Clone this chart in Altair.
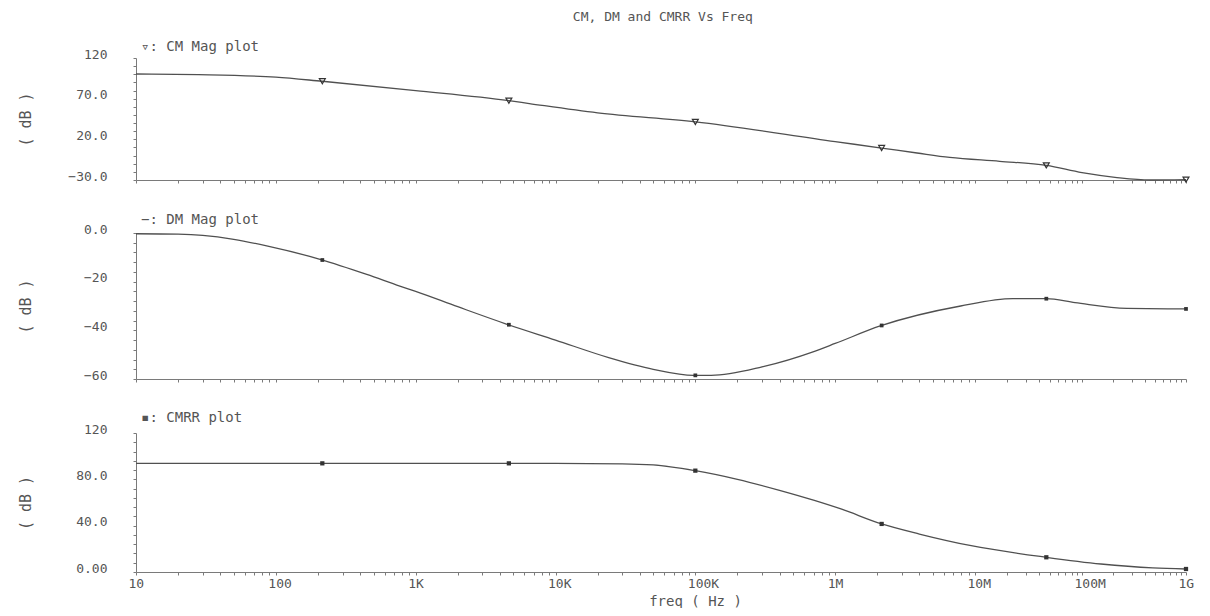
import altair as alt
import pandas as pd

FONT = "DejaVu Sans Mono"
TXT = "#555555"
AX = "#7a7a7a"
LINE = "#505050"

MAIN_TITLE = "CM, DM and CMRR Vs Freq"

# ---- common-mode magnitude (dB) ----
cm_freq = [10, 28, 100, 215, 1000, 4640, 6500, 20000, 100000, 1000000, 2150000,
           3850000, 6600000, 17000000, 46400000, 100000000, 217000000, 450000000, 1000000000]
cm_db = [100.3, 99.5, 96.5, 91.4, 80.0, 67.6, 64.0, 52.5, 41.4, 17.2, 9.3,
         3.2, -2.2, -7.0, -12.0, -21.0, -27.0, -30.0, -29.5]

# ---- differential-mode magnitude (dB) ----
dm_freq = [10, 20, 30, 50, 86, 207, 447, 770, 1000, 2000, 4400, 10000, 24000, 50000,
           97000, 130000, 300000, 720000, 1000000, 2100000, 7900000, 22600000,
           46400000, 86000000, 270000000, 1000000000]
dm_db = [-0.3, -0.5, -1.0, -2.6, -5.3, -10.8, -17.0, -21.8, -24.0, -30.3, -37.3, -44.0,
         -51.2, -56.0, -58.5, -58.5, -55.0, -48.5, -45.4, -38.2, -30.0, -27.0,
         -27.0, -28.6, -31.0, -31.2]

# ---- CMRR (dB) ----
cmrr_freq = [10, 1000, 10000, 30000, 50000, 100000, 200000, 400000, 700000, 1100000,
             2150000, 4000000, 9400000, 46400000, 152000000, 480000000, 1000000000]
cmrr_db = [93.8, 93.8, 93.7, 93.4, 92.5, 87.5, 80.0, 70.5, 62.0, 54.4,
           41.5, 32.8, 22.7, 12.7, 6.9, 3.5, 2.6]

# ---- marker positions ----
marker_freq = [215, 4640, 100000, 2150000, 46400000, 1000000000]
cm_marker_db = [91.4, 67.6, 41.4, 9.3, -12.0, -29.5]
dm_marker_db = [-11.1, -37.7, -58.5, -38.0, -27.0, -31.2]
cmrr_marker_db = [93.8, 93.8, 87.5, 41.5, 12.7, 2.6]

# ---- x axis ----
x_tick_values = [k * 10 ** e for e in range(1, 9) for k in range(1, 10)] + [10 ** 9]
x_label_values = [10, 100, 1000, 10000, 100000, 1000000, 10000000, 100000000, 1000000000]
x_label_text = ["10", "100", "1K", "10K", "100K", "1M", "10M", "100M", "1G"]
x_break_values = [10, 10000000, 100000000, 1000000000]
x_break_pixels = [0, 839, 946, 1050]

# ---- y axes ----
cm_ticks = list(range(-30, 121, 10))
cm_major = [120, 70, 20, -30]
cm_labels = ["120", "70.0", "20.0", "\u221230.0"]
dm_ticks = list(range(-60, 1, 4))
dm_major = [0, -20, -40, -60]
dm_labels = ["0.0", "\u221220", "\u221240", "\u221260"]
cmrr_ticks = list(range(0, 121, 8))
cmrr_major = [120, 80, 40, 0]
cmrr_labels = ["120", "80.0", "40.0", "0.00"]


def label_expr(values, texts):
    parts = [f"datum.value == {v} ? '{t}'" for v, t in zip(values, texts)]
    return " : ".join(parts) + " : ''"


W = 1050


def panel(freq, db, mdb, title, domain, ticks, major, labels, height, shape, filled, msize,
          bottom, title_offset):
    df = pd.DataFrame({"freq": freq, "db": db})
    mdf = pd.DataFrame({"freq": marker_freq, "db": mdb})
    xscale = alt.Scale(type="log", domain=x_break_values, range=x_break_pixels, nice=False)
    if bottom:
        xaxis = alt.Axis(values=x_tick_values, labelExpr=label_expr(x_label_values, x_label_text),
                         title="freq ( Hz )", labelFlush=False, labelOverlap=False,
                         labelAlign="left", labelOffset=-8, labelPadding=2, tickSize=3,
                         titleX=559, titlePadding=4, titleFontSize=14)
    else:
        xaxis = alt.Axis(values=x_tick_values, labels=False, title=None, tickSize=3)
    yaxis = alt.Axis(values=ticks, labelExpr=label_expr(major, labels), title="( dB )",
                     labelBaseline="alphabetic", labelPadding=26, tickSize=3,
                     labelOverlap=False, labelFlush=False,
                     titleX=-111, titleY=height / 2, titleBaseline="middle",
                     titleFontSize=15)
    x = alt.X("freq:Q", scale=xscale, axis=xaxis)
    y = alt.Y("db:Q", scale=alt.Scale(domain=domain, nice=False, zero=False), axis=yaxis)
    line = alt.Chart(df).mark_line(color=LINE, strokeWidth=1.3, interpolate="monotone").encode(x=x, y=y)
    pts = alt.Chart(mdf).mark_point(shape=shape, filled=filled, size=msize, color="#333333",
                                    strokeWidth=1.2, opacity=1).encode(x=x, y=y)
    return alt.layer(line, pts).properties(
        width=W, height=height,
        title=alt.TitleParams(text=title, anchor="start", frame="group", dx=5, offset=title_offset,
                              font=FONT, fontSize=14, fontWeight="normal", color=TXT),
    )


p1 = panel(cm_freq, cm_db, cm_marker_db, "\u25bf: CM Mag plot", [-30, 120], cm_ticks, cm_major,
           cm_labels, 122, "triangle-down", False, 35, False, -6)
p2 = panel(dm_freq, dm_db, dm_marker_db, "\u2212: DM Mag plot", [-60, 0], dm_ticks, dm_major,
           dm_labels, 146, "square", True, 14, False, -4)
p3 = panel(cmrr_freq, cmrr_db, cmrr_marker_db, "\u25aa: CMRR plot", [0, 120], cmrr_ticks,
           cmrr_major, cmrr_labels, 139, "square", True, 18, True, -2)

chart = alt.vconcat(p1, p2, p3, spacing=28).properties(
    title=alt.TitleParams(text=MAIN_TITLE, anchor="middle", dx=57, offset=16, font=FONT,
                          fontSize=13, fontWeight="normal", color=TXT),
    padding={"left": 9, "top": 3, "right": 5, "bottom": 0},
).configure_view(strokeWidth=0).configure_axis(
    grid=False, domainColor=AX, tickColor=AX, labelColor=TXT, titleColor=TXT,
    labelFont=FONT, titleFont=FONT, labelFontSize=13, titleFontWeight="normal",
    domainWidth=1, tickWidth=1,
)

chart.save("out.html", embed_options={"renderer": "svg", "actions": False})
